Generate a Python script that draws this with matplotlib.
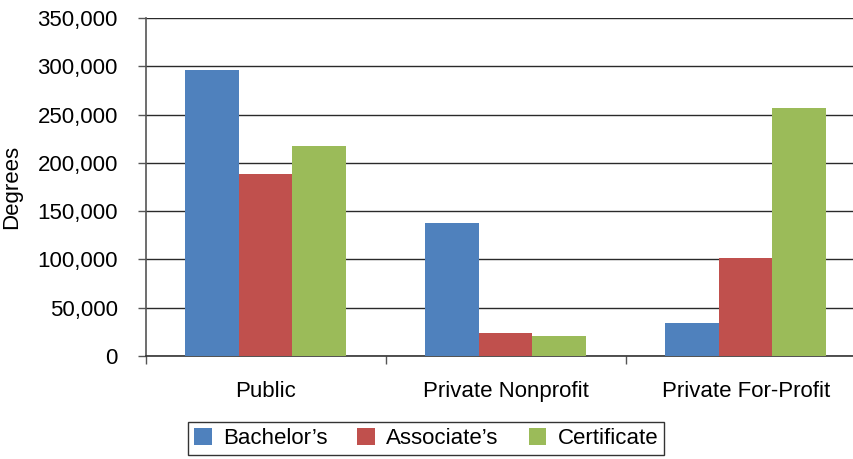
import numpy as np
import matplotlib as mpl
mpl.use('Agg')
import matplotlib.pyplot as plt
from matplotlib.ticker import FuncFormatter, FixedLocator

plt.rcParams['font.family'] = ['Liberation Sans', 'DejaVu Sans']

categories = ['Public', 'Private Nonprofit', 'Private For-Profit']
series = ['Bachelor\u2019s', 'Associate\u2019s', 'Certificate']
bachelors = [296500, 137300, 33800]
associates = [188300, 23500, 101300]
certificates = [217200, 20400, 256500]
colors = ['#4F81BD', '#C0504D', '#9BBB59']

fs = 16
fig = plt.figure(figsize=(8.54, 4.59), dpi=100)
# plot area runs past the right edge of the picture (cropped like the original)
ax = fig.add_axes([145.7/854, 1-356/459, 720/854, 338/459])

x = np.arange(len(categories))
w = 0.223
for i, (vals, name) in enumerate(zip([bachelors, associates, certificates], series)):
    ax.bar(x + (i-1)*w, vals, w, color=colors[i], label=name, zorder=3, linewidth=0)

ax.set_xlim(-0.5, 2.5)
ax.set_ylim(0, 350000)
ax.set_yticks(np.arange(0, 350001, 50000))
ax.yaxis.set_major_formatter(FuncFormatter(lambda v, p: f'{int(v):,}'))
ax.grid(axis='y', color='#2a2a2a', lw=1.0, zorder=1)

ax.set_xticks(x)
ax.set_xticklabels(categories)
ax.tick_params(axis='x', which='major', length=0, pad=18, labelsize=fs)
ax.xaxis.set_minor_locator(FixedLocator([-0.5, 0.5, 1.5, 2.5]))
ax.tick_params(axis='x', which='minor', length=6, color='#555555', width=1)
ax.tick_params(axis='y', length=6, color='#555555', width=1, labelsize=fs, pad=14)

for s in ['top', 'right']:
    ax.spines[s].set_visible(False)
ax.spines['left'].set_color('#555555')
ax.spines['bottom'].set_color('#333333')
ax.spines['left'].set_linewidth(1.2)
ax.spines['bottom'].set_linewidth(1.2)

ax.set_ylabel('Degrees', fontsize=fs)
ax.yaxis.set_label_coords((22-145.7)/720, 0.5)

leg = fig.legend(loc='center', bbox_to_anchor=(426/854, 1-438.5/459), ncol=3,
                 fontsize=fs, frameon=True, fancybox=False, edgecolor='black',
                 handlelength=0.8, handleheight=0.8, handletextpad=0.5,
                 columnspacing=1.35, borderpad=0.25)
leg.get_frame().set_linewidth(1.0)

fig.savefig('out.png', dpi=100)
